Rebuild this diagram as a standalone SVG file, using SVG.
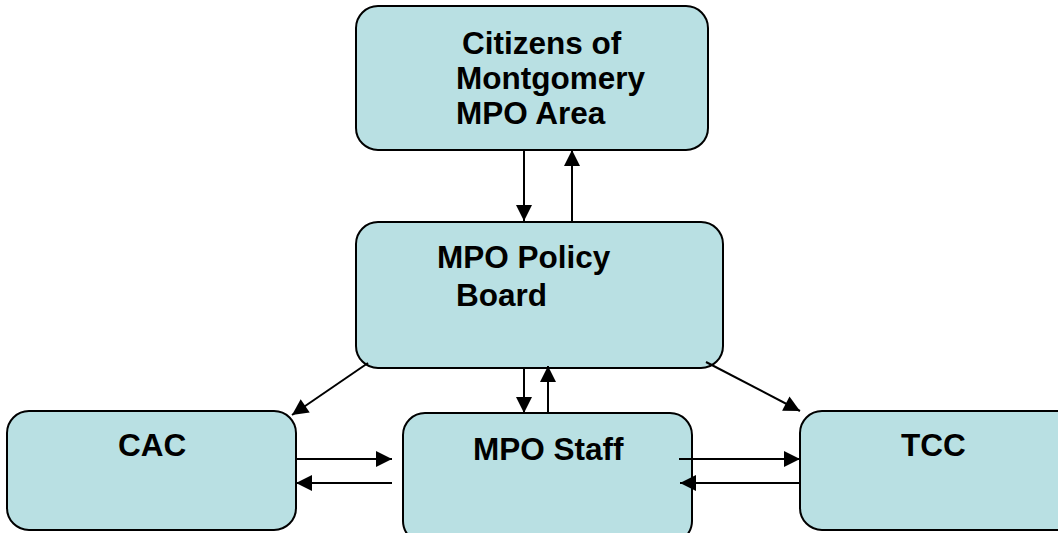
<svg xmlns="http://www.w3.org/2000/svg" width="1058" height="533" viewBox="0 0 1058 533">
<style>
.box{fill:#b9e0e3;stroke:#000;stroke-width:2}
.lbl{font-family:"Liberation Sans",Arial,sans-serif;font-weight:bold;font-size:31.5px;fill:#000}
.con{stroke:#000;stroke-width:2;fill:none;marker-end:url(#ah)}
</style>
<defs>
<marker id="ah" markerUnits="userSpaceOnUse" markerWidth="18" markerHeight="18" refX="16" refY="8" orient="auto" overflow="visible">
<path d="M0,0 L16,8 L0,16 z" fill="#000"/>
</marker>
</defs>
<rect width="1058" height="533" fill="#fff"/>
<g id="citizens">
<rect class="box" x="356" y="6" width="352" height="144" rx="22"/>
<text class="lbl"><tspan x="462" y="54">Citizens of</tspan><tspan x="456" y="89">Montgomery</tspan><tspan x="456" y="124">MPO Area</tspan></text>
</g>
<g id="policy-board">
<rect class="box" x="356" y="222" width="367" height="146" rx="22"/>
<text class="lbl"><tspan x="437" y="268">MPO Policy</tspan><tspan x="456" y="306">Board</tspan></text>
</g>
<g id="cac">
<rect class="box" x="7" y="411" width="289" height="119" rx="22"/>
<text class="lbl" x="118" y="456">CAC</text>
</g>
<g id="mpo-staff">
<rect class="box" x="403" y="413" width="289" height="130" rx="22"/>
<text class="lbl" x="473" y="460">MPO Staff</text>
</g>
<g id="tcc">
<rect class="box" x="800" y="411" width="280" height="119" rx="22"/>
<text class="lbl" x="901" y="456">TCC</text>
</g>
<g id="connectors">
<line class="con" x1="524" y1="150" x2="524" y2="221"/>
<line class="con" x1="572" y1="222" x2="572" y2="150"/>
<line class="con" x1="524" y1="367" x2="524" y2="413"/>
<line class="con" x1="548" y1="413" x2="548" y2="366"/>
<line class="con" x1="368" y1="363" x2="292" y2="415"/>
<line class="con" x1="706" y1="362" x2="800" y2="411"/>
<line class="con" x1="296" y1="459" x2="392" y2="459"/>
<line class="con" x1="392" y1="483" x2="296" y2="483"/>
<line class="con" x1="679" y1="459" x2="800" y2="459"/>
<line class="con" x1="800" y1="483" x2="680" y2="483"/>
</g>
</svg>
